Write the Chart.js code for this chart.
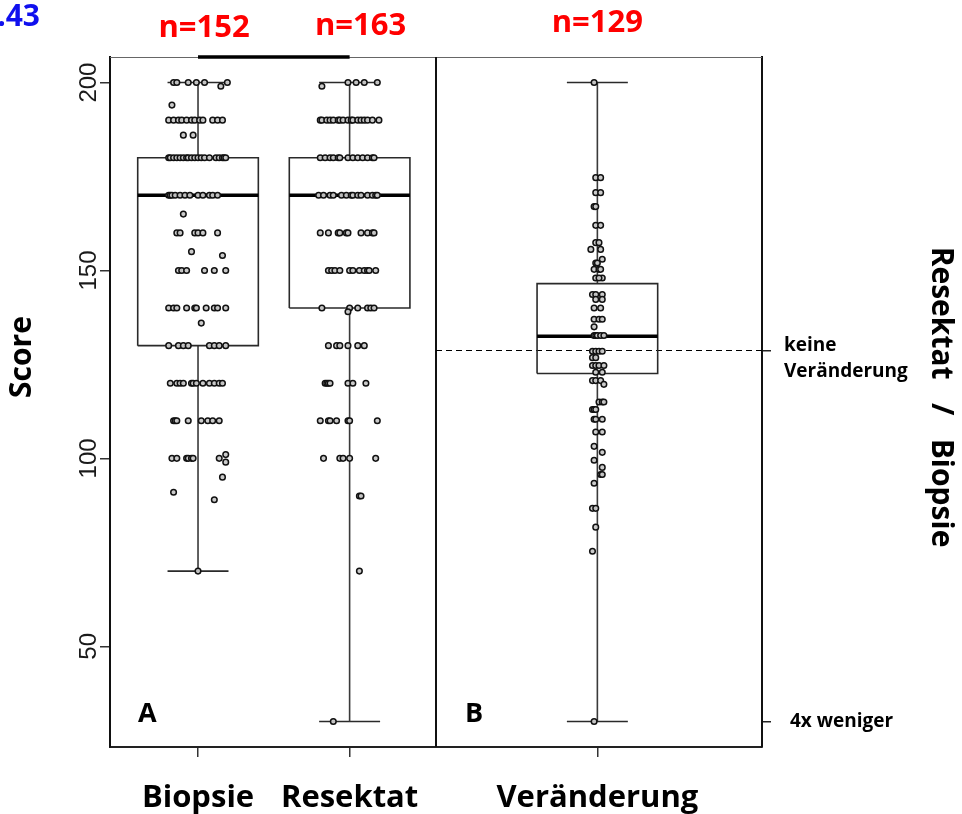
<!DOCTYPE html>
<html>
<head>
<meta charset="utf-8">
<script src="https://cdn.jsdelivr.net/npm/chart.js@4.4.0/dist/chart.umd.min.js"></script>
<style>
html,body{margin:0;padding:0;background:#fff;}
#wrap{width:962px;height:814px;position:relative;}
</style>
</head>
<body>
<div id="wrap"><canvas id="c" width="962" height="814"></canvas></div>
<script>
// ---------- data ----------
const categories = ['Biopsie', 'Resektat', 'Veränderung'];
const nLabels = ['n=152', 'n=163', 'n=129'];
const whiskerLow = [70, 30, 30];
const q1 = [130, 140, 122.6];
const medians = [170, 170, 132.5];
const q3 = [180, 180, 146.5];
const whiskerHigh = [200, 200, 200];
const scoreTicks = [50, 100, 150, 200];
const ratioTickValues = [128.7, 30];
const ratioTickLabels = [['keine', 'Veränderung'], ['4x weniger']];
const noChangeLevel = 128.7;

// [score, jitter (hundredths of a category step)]
const biopsiePoints = [
  [200,-15],[200,-13],[200,-6],[200,-1],[200,4],[200,18],[199,14],
  [194,-16],
  [190,-18],[190,-15],[190,-12],[190,-10],[190,-7],[190,-4],[190,-2],[190,1],[190,3],[190,9],[190,12],[190,15],
  [186,-9],[186,-3],
  [180,-18],[180,-17],[180,-15],[180,-13],[180,-11],[180,-9],[180,-7],[180,-6],[180,-4],[180,-2],[180,0],[180,2],[180,4],[180,7],[180,11],[180,13],[180,15],[180,16],[180,17],
  [170,-18],[170,-17],[170,-16],[170,-14],[170,-11],[170,-8],[170,-5],[170,0],[170,3],[170,7],[170,9],[170,12],
  [165,-9],
  [160,-13],[160,-11],[160,-2],[160,0],[160,3],[160,12],
  [155,-4],[154,15],
  [150,-12],[150,-10],[150,-7],[150,4],[150,10],[150,17],
  [140,-18],[140,-15],[140,-13],[140,-7],[140,-2],[140,-1],[140,5],[140,10],[140,12],[140,17],
  [136,2],
  [130,-18],[130,-12],[130,-9],[130,-6],[130,7],[130,10],[130,13],[130,17],
  [120,-17],[120,-13],[120,-11],[120,-9],[120,-4],[120,-3],[120,-1],[120,3],[120,7],[120,10],[120,13],[120,15],
  [110,-15],[110,-14],[110,-13],[110,-6],[110,2],[110,6],[110,9],[110,13],
  [100,-16],[100,-13],[100,-7],[100,-6],[100,-4],[100,-3],[100,13],[101,17],[99,17],
  [95,15],[91,-15],[89,10],[70,0]
];
const resektatPoints = [
  [200,-1],[200,4],[200,9],[200,17],[199,-17],
  [190,-18],[190,-17],[190,-14],[190,-12],[190,-10],[190,-7],[190,-6],[190,-4],[190,-1],[190,1],[190,2],[190,5],[190,7],[190,9],[190,11],[190,14],[190,18],
  [180,-18],[180,-15],[180,-12],[180,-10],[180,-7],[180,-6],[180,-1],[180,2],[180,5],[180,8],[180,11],[180,14],[180,15],
  [170,-19],[170,-16],[170,-12],[170,-10],[170,-5],[170,-2],[170,1],[170,2],[170,5],[170,7],[170,11],[170,14],[170,16],[170,17],
  [160,-18],[160,-13],[160,-7],[160,-6],[160,-2],[160,-1],[160,7],[160,11],[160,14],[160,15],
  [150,-13],[150,-11],[150,-9],[150,-6],[150,0],[150,2],[150,6],[150,9],[150,11],[150,12],[150,16],
  [140,-17],[140,0],[140,5],[140,11],[140,13],[140,15],[139,-1],
  [130,-13],[130,-8],[130,-6],[130,-1],[130,5],[130,9],
  [120,-15],[120,-14],[120,-13],[120,-12],[120,-1],[120,2],[120,10],
  [110,-18],[110,-13],[110,-12],[110,-8],[110,-1],[110,0],[110,17],
  [100,-16],[100,-6],[100,-4],[100,0],[100,16],
  [90,6],[90,7],[70,6],[30,-10]
];
const veraenderungPoints = [
  [200,-2],
  [174.7,-1],[174.7,2],[170.7,-1],[170.7,2],[167,-2],[167,-1],[162,-1],[162,2],
  [157.4,-1],[157.4,1],[155.6,-4],[155.6,2],[153,3],[152,-1],[152,0],
  [150.3,-2],[150.3,1],[150.3,2],[148,-1],[148,3],[148,1],
  [143.6,-3],[143.6,-1],[143.6,3],[142.3,3],[142.3,-1],[140,-2],[140,2],
  [137,-2],[137,1],[137,3],[135,-2],
  [132.7,-2],[132.7,-1],[132.7,0],[132.7,2],[132.7,4],
  [128.5,-3],[128.5,-1],[128.5,1],[128.5,3],[126.8,-3],[126.8,-1],
  [124.7,-3],[124.7,-1],[124.7,1],[124.7,4],[122.9,-1],[122.9,3],
  [120.7,-3],[120.7,-1],[120.7,2],[119.7,4],
  [115,1],[115,3],[115,4],[113,-3],[113,-2],[113,-1],
  [110.4,-2],[110.4,-1],[110.4,3],[107,-1],[107,3],
  [103.2,-2],[101.6,3],[99.5,-2],[97.6,3],[95.7,2],[95.7,3],[93.4,-2],
  [86.7,-3],[86.7,-1],[81.7,-1],[75.3,-3],[30,-2]
];
const groupPoints = [biopsiePoints, resektatPoints, veraenderungPoints];

// ---------- layout (not data) ----------
const groupX = [1.04, 1.97, 3.49];
const panelDivider = 2.5;
const boxHalf = 0.37;
const capHalf = 0.187;
const yMin = 23.2, yMax = 206.8;

const datasets = [];
categories.forEach((cat, i) => {
  const cx = groupX[i];
  datasets.push({
    label: cat + ' box',
    data: [{x:cx-boxHalf,y:q1[i]},{x:cx+boxHalf,y:q1[i]},{x:cx+boxHalf,y:q3[i]},{x:cx-boxHalf,y:q3[i]},{x:cx-boxHalf,y:q1[i]}],
    showLine:true, borderColor:'#2a2a2a', borderWidth:1.6, pointRadius:0, pointHoverRadius:0, fill:false, order:3
  });
  datasets.push({
    label: cat + ' whisker',
    data: [{x:cx,y:whiskerLow[i]},{x:cx,y:q1[i]},{x:cx,y:null},{x:cx,y:q3[i]},{x:cx,y:whiskerHigh[i]}],
    showLine:true, spanGaps:false, borderColor:'#3a3a3a', borderWidth:1.6, pointRadius:0, pointHoverRadius:0, order:3
  });
  datasets.push({
    label: cat + ' caps',
    data: [{x:cx-capHalf,y:whiskerLow[i]},{x:cx+capHalf,y:whiskerLow[i]},{x:cx,y:null},{x:cx-capHalf,y:whiskerHigh[i]},{x:cx+capHalf,y:whiskerHigh[i]}],
    showLine:true, spanGaps:false, borderColor:'#2a2a2a', borderWidth:1.6, pointRadius:0, pointHoverRadius:0, order:3
  });
  datasets.push({
    label: cat + ' median',
    data: [{x:cx-boxHalf,y:medians[i]},{x:cx+boxHalf,y:medians[i]}],
    showLine:true, borderColor:'#000', borderWidth:3.5, pointRadius:0, pointHoverRadius:0, order:2
  });
  datasets.push({
    label: cat,
    data: groupPoints[i].map(p => ({x: cx + p[1]/100, y: p[0]})),
    showLine:false, pointStyle:'circle', pointRadius:2.8, pointBorderWidth:1.5,
    pointBorderColor:'#111', pointBackgroundColor:'rgba(200,200,200,0.95)', order:0
  });
});
datasets.push({
  label:'keine Veränderung',
  data:[{x:panelDivider,y:noChangeLevel},{x:4.5,y:noChangeLevel}],
  showLine:true, borderColor:'#000', borderWidth:1.2, borderDash:[6,4], pointRadius:0, pointHoverRadius:0, order:4
});
datasets.push({
  label:'bracket',
  data:[{x:groupX[0],y:yMax},{x:groupX[1],y:yMax}],
  showLine:true, borderColor:'#000', borderWidth:3.5, pointRadius:0, pointHoverRadius:0, clip:false, order:1
});

const overlay = {
  id:'overlay',
  beforeDatasetsDraw(chart){
    const ctx = chart.ctx, ca = chart.chartArea;
    const xs = chart.scales.x;
    ctx.save();
    // top frame
    ctx.strokeStyle = '#666'; ctx.lineWidth = 1;
    ctx.beginPath(); ctx.moveTo(ca.left, ca.top+0.5); ctx.lineTo(ca.right, ca.top+0.5); ctx.stroke();
    // panel divider
    const dx = xs.getPixelForValue(panelDivider);
    ctx.strokeStyle = '#111'; ctx.lineWidth = 2;
    ctx.beginPath(); ctx.moveTo(dx, ca.top); ctx.lineTo(dx, ca.bottom); ctx.stroke();
    ctx.restore();
  },
  afterDraw(chart){
    const ctx = chart.ctx, ca = chart.chartArea;
    const xs = chart.scales.x, ys = chart.scales.y;
    const dx = xs.getPixelForValue(panelDivider);
    ctx.save();
    // y tick labels (rotated, R style)
    ctx.fillStyle = '#1a1a1a';
    ctx.font = '24px "Liberation Sans", Arial, sans-serif';
    ctx.textAlign = 'center'; ctx.textBaseline = 'middle';
    ys.ticks.forEach(t => {
      const py = ys.getPixelForValue(t.value);
      ctx.save(); ctx.translate(ca.left - 21, py); ctx.rotate(-Math.PI/2);
      ctx.fillText(String(t.value), 0, 0); ctx.restore();
    });

    // y title
    ctx.fillStyle = '#000';
    ctx.font = 'bold 30px "Open Sans", sans-serif';
    ctx.save(); ctx.translate(22, 357); ctx.rotate(-Math.PI/2); ctx.fillText('Score', 0, 0); ctx.restore();

    // right title
    ctx.save(); ctx.translate(941, 397); ctx.rotate(Math.PI/2);
    ctx.fillText('Resektat   /   Biopsie', 0, 0); ctx.restore();

    // right tick labels
    const y2 = chart.scales.y2;
    ctx.font = 'bold 19px "Open Sans", sans-serif';
    ctx.textAlign = 'left';
    const xOff = [22, 28];
    ratioTickValues.forEach((v, i) => {
      const py = y2.getPixelForValue(v);
      const lines = ratioTickLabels[i];
      const start = lines.length > 1 ? -5 : 0;
      lines.forEach((ln, k) => ctx.fillText(ln, ca.right + xOff[i], py + start + k*26));
    });

    // n labels
    ctx.fillStyle = '#ff0000';
    ctx.font = 'bold 31px "Open Sans", sans-serif';
    ctx.textAlign = 'center';
    const nOff = [[6,28],[11,26],[0,23]];
    nLabels.forEach((t, i) => ctx.fillText(t, xs.getPixelForValue(groupX[i]) + nOff[i][0], nOff[i][1]));

    // cut-off blue label
    ctx.fillStyle = '#1010ee';
    ctx.font = 'bold 30px "Open Sans", sans-serif';
    ctx.textAlign = 'right';
    ctx.fillText('.43', 40, 17);

    // panel letters
    ctx.fillStyle = '#000';
    ctx.font = 'bold 27px "Open Sans", sans-serif';
    ctx.textAlign = 'left'; ctx.textBaseline = 'alphabetic';
    ctx.fillText('A', ca.left + 28, 722);
    ctx.fillText('B', dx + 29, 722);
    ctx.restore();
  }
};

new Chart(document.getElementById('c'), {
  type:'scatter',
  data:{datasets},
  options:{
    responsive:false, animation:false,
    layout:{padding:{top:57, left:0, right:0, bottom:0}},
    plugins:{legend:{display:false}, tooltip:{enabled:false}},
    scales:{
      x:{
        type:'linear', min:0.5, max:4.5,
        afterBuildTicks: s => { s.ticks = groupX.map(v => ({value:v})); },
        afterFit: s => { s.height = 67; },
        ticks:{callback:(v,i) => categories[i], font:{family:'Open Sans', weight:'bold', size:31}, color:'#000', padding:23, autoSkip:false, maxRotation:0, minRotation:0},
        grid:{drawOnChartArea:false, tickLength:10, color:'#333', lineWidth:1.5},
        border:{display:true, color:'#222', width:2}
      },
      y:{
        type:'linear', min:yMin, max:yMax,
        afterBuildTicks: s => { s.ticks = scoreTicks.map(v => ({value:v})); },
        afterFit: s => { s.width = 110; },
        ticks:{display:false},
        grid:{drawOnChartArea:false, tickLength:10, color:'#333', lineWidth:1.5},
        border:{display:true, color:'#111', width:2}
      },
      y2:{
        type:'linear', position:'right', min:yMin, max:yMax,
        afterBuildTicks: s => { s.ticks = ratioTickValues.map(v => ({value:v})); },
        afterFit: s => { s.width = 200; },
        ticks:{display:false},
        grid:{drawOnChartArea:false, tickLength:9, color:'#222', lineWidth:1.5},
        border:{display:true, color:'#111', width:2}
      }
    }
  },
  plugins:[overlay]
});
</script>
</body>
</html>
